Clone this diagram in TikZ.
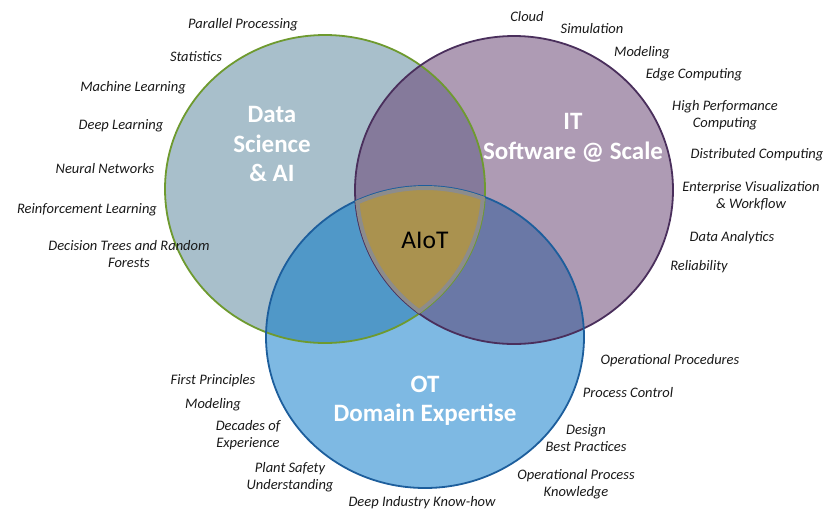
\documentclass[tikz,border=0pt]{standalone}
\usepackage{fontspec}
\setmainfont{Carlito}
\definecolor{afill}{HTML}{A8BFCB}
\definecolor{bfill}{HTML}{AE9BB4}
\definecolor{cfill}{HTML}{7EB9E3}
\definecolor{abfill}{HTML}{857A9B}
\definecolor{acfill}{HTML}{5098C8}
\definecolor{bcfill}{HTML}{6A78A6}
\definecolor{goldfill}{HTML}{AA924F}
\definecolor{astroke}{HTML}{6E9A2F}
\definecolor{bstroke}{HTML}{4A2F5C}
\definecolor{cstroke}{HTML}{1D5E9C}
\definecolor{gborder}{HTML}{8C8C8C}
\def\pathA{(325,189) ellipse [x radius=160pt, y radius=154pt]}
\def\pathB{(514,190) ellipse [x radius=159pt, y radius=154pt]}
\def\pathC{(425,337) ellipse [x radius=159pt, y radius=151pt]}
\tikzset{
  lbl/.style={font=\itshape\fontsize{14.5}{16.5}\selectfont, align=center, text=black!90, inner sep=0pt},
  big/.style={font=\bfseries\fontsize{25}{29.5}\selectfont, text=white, align=center, inner sep=0pt},
  ring/.style={line width=1.8pt}
}
\begin{document}
\begin{tikzpicture}[x=1pt,y=-1pt]
\useasboundingbox (0,0) rectangle (827,512);
% fills
\fill[afill] \pathA;
\fill[bfill] \pathB;
\fill[cfill] \pathC;
\begin{scope}\clip \pathA; \fill[abfill] \pathB; \end{scope}
\begin{scope}\clip \pathA; \fill[acfill] \pathC; \end{scope}
\begin{scope}\clip \pathB; \fill[bcfill] \pathC; \end{scope}
\begin{scope}\clip \pathA; \clip \pathB; \fill[goldfill] \pathC; \end{scope}
% outlines
\draw[ring, astroke] \pathA;
\draw[ring, bstroke] \pathB;
\draw[ring, cstroke] \pathC;
% gray border of the centre
\begin{scope}
  \clip \pathA; \clip \pathB; \clip \pathC;
  \draw[gborder, line width=8pt] \pathA;
  \draw[gborder, line width=8pt] \pathB;
  \draw[gborder, line width=8pt] \pathC;
\end{scope}
% main labels
\node[big] (ds) at (272,144) {Data\\Science\\\& AI};
\node[big] (it) at (573,138) {IT\\Software @ Scale};
\node[big] (ot) at (425,401) {OT\\Domain Expertise};
\node[font=\fontsize{25.5}{28}\selectfont, text=black, inner sep=0pt] (aiot) at (425,240) {AIoT};
% Data science labels
\node[lbl] (l1) at (243,25) {Parallel Processing};
\node[lbl] (l2) at (196,57) {Statistics};
\node[lbl] (l3) at (133,88) {Machine Learning};
\node[lbl] (l4) at (121,126) {Deep Learning};
\node[lbl] (l5) at (105,169) {Neural Networks};
\node[lbl] (l6) at (87,210) {Reinforcement Learning};
\node[lbl] (l7) at (129,254) {Decision Trees and Random\\Forests};
% IT labels
\node[lbl] (r1) at (527,17) {Cloud};
\node[lbl] (r2) at (592,29) {Simulation};
\node[lbl] (r3) at (642,53) {Modeling};
\node[lbl] (r4) at (694,75) {Edge Computing};
\node[lbl] (r5) at (725,115) {High Performance\\Computing};
\node[lbl] (r6) at (757,155) {Distributed Computing};
\node[lbl] (r7) at (751,196) {Enterprise Visualization\\\& Workflow};
\node[lbl] (r8) at (732,238) {Data Analytics};
\node[lbl] (r9) at (699,267) {Reliability};
% OT labels
\node[lbl] (b1) at (670,361) {Operational Procedures};
\node[lbl] (b2) at (628,393) {Process Control};
\node[lbl] (b3) at (586,438) {Design\\Best Practices};
\node[lbl] (b4) at (576,484) {Operational Process\\Knowledge};
\node[lbl] (b5) at (422,503) {Deep Industry Know-how};
\node[lbl] (b6) at (213,381) {First Principles};
\node[lbl] (b7) at (213,405) {Modeling};
\node[lbl] (b8) at (248,435) {Decades of\\Experience};
\node[lbl] (b9) at (290,477) {Plant Safety\\Understanding};
\end{tikzpicture}
\end{document}
